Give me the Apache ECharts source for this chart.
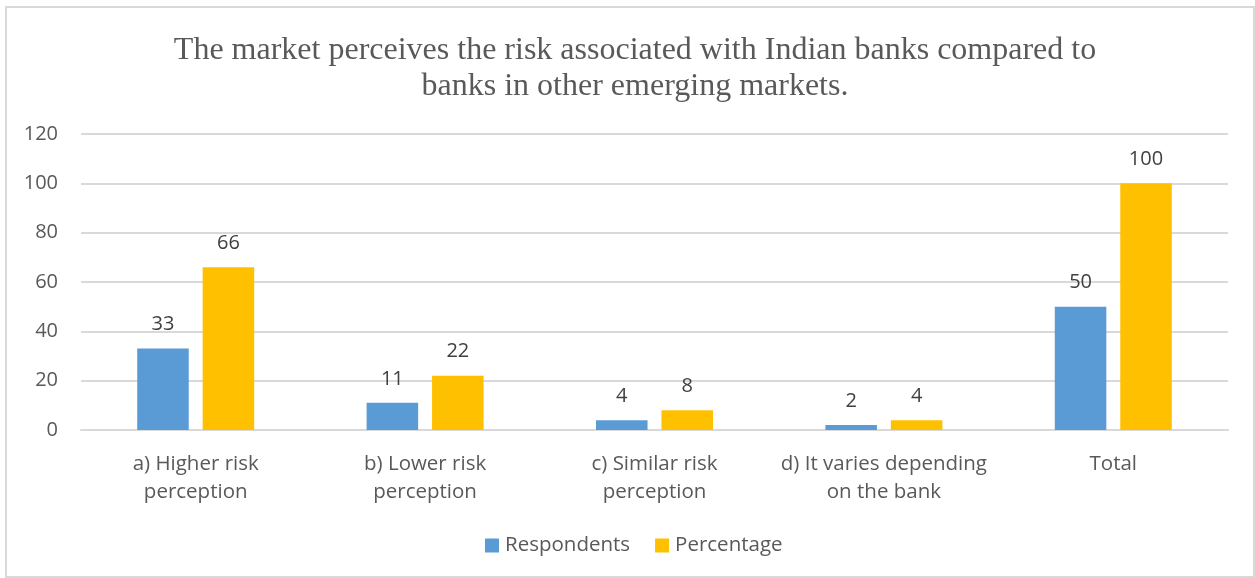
<!DOCTYPE html>
<html>
<head>
<meta charset="utf-8">
<script src="https://cdn.jsdelivr.net/npm/echarts@6/dist/echarts.min.js"></script>
<style>
  html, body { margin: 0; padding: 0; background: #ffffff; }
  #frame { position: absolute; left: 5px; top: 6px; width: 1250px; height: 572px; border: 2px solid #d9d9d9; box-sizing: border-box; }
  #chart { width: 1255px; height: 578px; }
</style>
</head>
<body>
<div id="frame"></div>
<div id="chart"></div>
<script>
const categories = [
  'a) Higher risk\nperception',
  'b) Lower risk\nperception',
  'c) Similar risk\nperception',
  'd) It varies depending\non the bank',
  'Total'
];
const respondents = [33, 11, 4, 2, 50];
const percentage = [66, 22, 8, 4, 100];
const yTicks = [0, 20, 40, 60, 80, 100, 120];

const chart = echarts.init(document.getElementById('chart'), null, { renderer: 'canvas' });
const uiFont = '"Open Sans", Lato, sans-serif';

const labelStyle = {
  show: true,
  position: 'top',
  distance: 14,
  color: '#404040',
  fontFamily: uiFont,
  fontSize: 20
};

chart.setOption({
  animation: false,
  backgroundColor: 'transparent',
  title: {
    text: 'The market perceives the risk associated with Indian banks compared to\nbanks in other emerging markets.',
    left: 630,
    textAlign: 'center',
    top: 28,
    textStyle: {
      fontFamily: '"Liberation Serif", "Times New Roman", serif',
      fontWeight: 'normal',
      fontSize: 32,
      lineHeight: 36,
      color: '#595959'
    }
  },
  legend: {
    bottom: 17,
    left: 480,
    itemWidth: 14,
    itemHeight: 14,
    itemGap: 25,
    icon: 'rect',
    textStyle: { fontFamily: uiFont, fontSize: 20.5, color: '#595959', padding: [0, 0, 0, 1] },
    data: ['Respondents', 'Percentage']
  },
  grid: { left: 81, right: 27, top: 134, bottom: 148, containLabel: false },
  xAxis: {
    type: 'category',
    data: categories,
    axisLine: { lineStyle: { color: '#d9d9d9', width: 2 } },
    axisTick: { show: false },
    axisLabel: {
      interval: 0,
      margin: 20,
      color: '#595959',
      fontFamily: uiFont,
      fontSize: 20.5,
      lineHeight: 28
    }
  },
  yAxis: {
    type: 'value',
    min: yTicks[0],
    max: yTicks[yTicks.length - 1],
    interval: yTicks[1] - yTicks[0],
    axisLine: { show: false },
    axisTick: { show: false },
    splitLine: { lineStyle: { color: '#d9d9d9', width: 2 } },
    axisLabel: {
      margin: 23,
      color: '#595959',
      fontFamily: uiFont,
      fontSize: 20
    }
  },
  series: [
    {
      name: 'Respondents',
      type: 'bar',
      data: respondents,
      itemStyle: { color: '#5b9bd5' },
      barGap: '27%',
      barCategoryGap: '49%',
      label: labelStyle
    },
    {
      name: 'Percentage',
      type: 'bar',
      data: percentage,
      itemStyle: { color: '#ffc000' },
      label: labelStyle
    }
  ]
});
</script>
</body>
</html>
